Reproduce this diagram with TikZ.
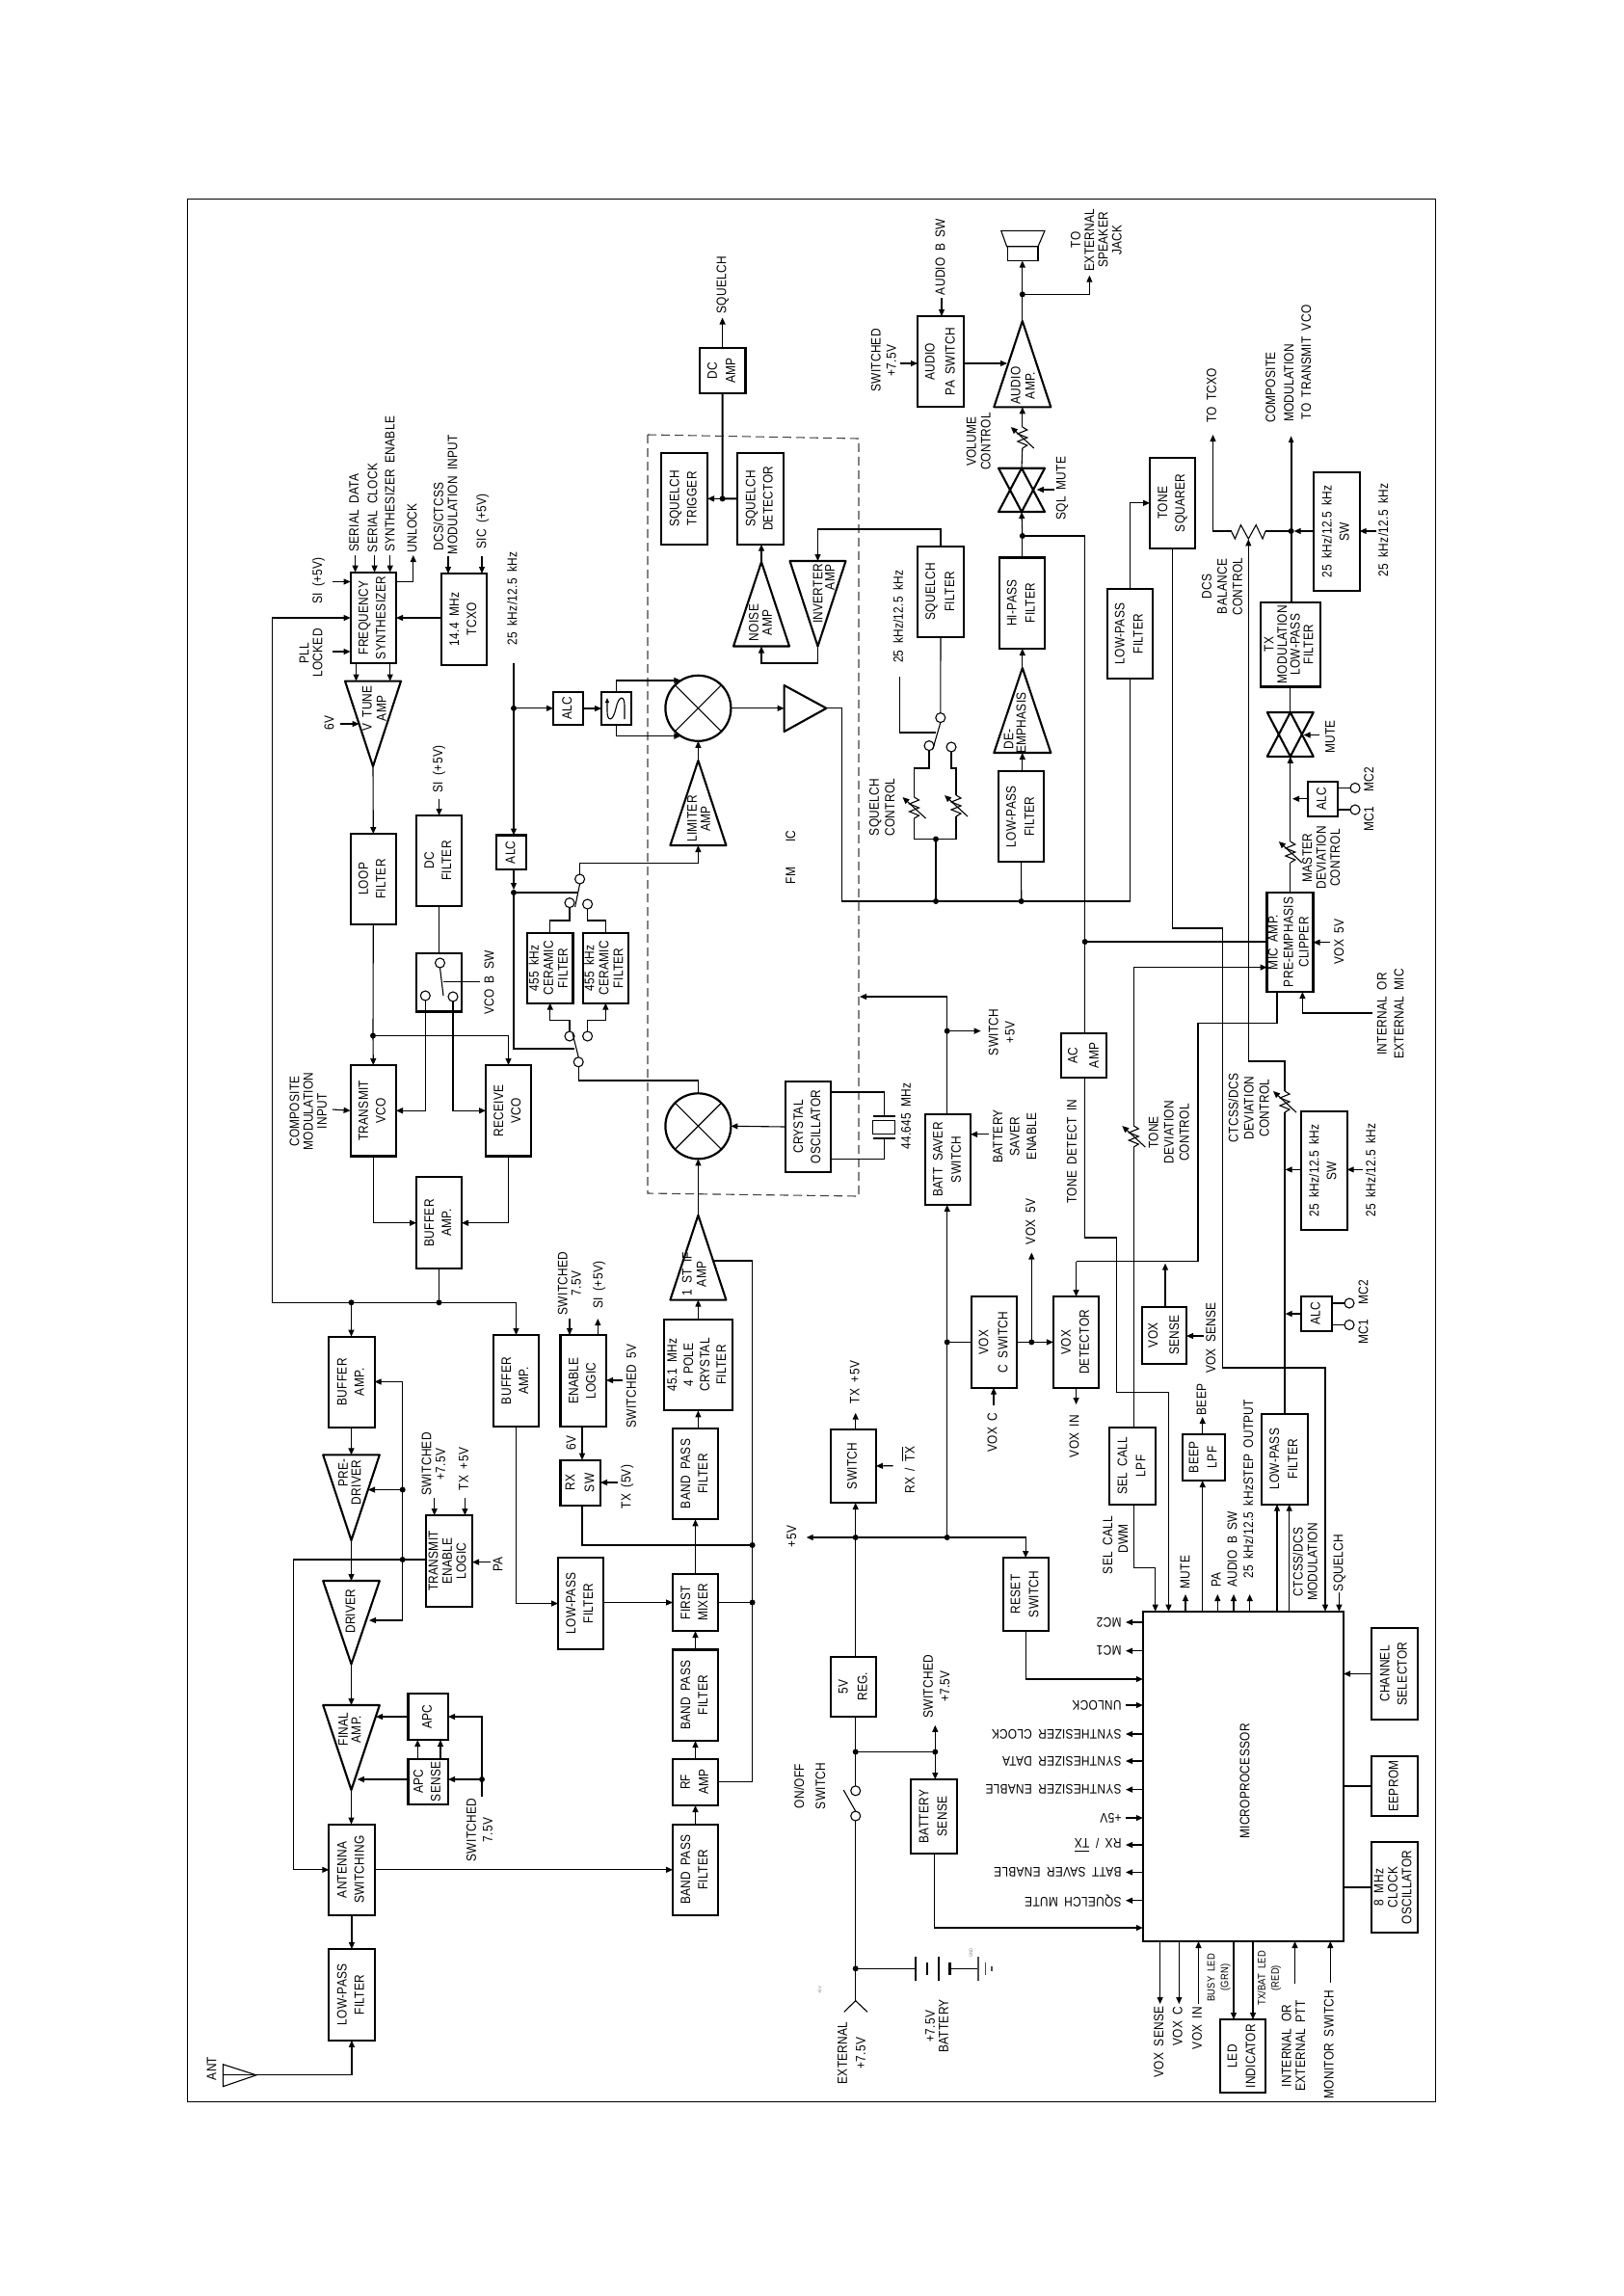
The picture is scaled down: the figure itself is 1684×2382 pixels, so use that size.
\documentclass[tikz,border=0pt]{standalone}
\usepackage{fontspec}
\usepackage{graphicx}
\setmainfont[FakeStretch=0.85,WordSpace=1.8,LetterSpace=2]{Liberation Sans}
\usetikzlibrary{arrows.meta,calc}
\newcounter{lbl}
\def\fsz{14}
\newcommand{\rt}[2][17]{\rotatebox{90}{\fontsize{\fsz}{#1}\selectfont\begin{tabular}{@{}c@{}}#2\end{tabular}}}
\newcommand{\ovl}[1]{\vbox{\hrule height .9pt\kern 2.5pt\hbox{#1}}}
\newcommand{\bx}[7][18]{%
  \pgfmathsetmacro\cxx{(#3+#5)/2}\pgfmathsetmacro\cyy{(#4+#6)/2}%
  \pgfmathsetmacro\wxx{#5-#3}\pgfmathsetmacro\hyy{#6-#4}%
  \node[blk,minimum width=\wxx pt,minimum height=\hyy pt] (#2) at (\cxx,\cyy) {\rt[#1]{#7}};}
\newcommand{\lb}[4][17]{\stepcounter{lbl}\node[lbl] (lab\arabic{lbl}) at (#2,#3) {\rt[#1]{#4}};}
\newcommand{\lbs}[4][14]{\stepcounter{lbl}\node[lbl] (lab\arabic{lbl}) at (#2,#3) {\def\fsz{11}\rt[#1]{#4}};}
\newcommand{\lbr}[2]{\stepcounter{lbl}\node[lbl,anchor=east] (lab\arabic{lbl}) at (1163.5,#1) {\rotatebox{180}{\fontsize{14}{17}\selectfont #2}};}
\newcommand{\tri}[5]{\coordinate (#1A) at (#2,#3);\coordinate (#1B) at (#2,#4);
  \draw[blkline] (#2,#3) -- ({#2-#5},#4) -- ({#2+#5},#4) -- cycle;}
\newcommand{\gate}[5]{\coordinate (#1T) at (#2,#3);\coordinate (#1B) at (#2,#4);
  \draw[blkline] ({#2-#5},#4) -- ({#2+#5},#4) -- (#2,#3) -- cycle;
  \draw[blkline] ({#2-#5},#3) -- ({#2+#5},#3) -- (#2,#4) -- cycle;}
\newcommand{\jn}[3]{\node[dot] (#1) at (#2,#3) {};}
\newcommand{\cir}[3]{\node[ring] (#1) at (#2,#3) {};}
\newcommand{\pot}[3]{\coordinate (#1T) at (#2,{#3-11});\coordinate (#1B) at (#2,{#3+11});
  \draw[wire] (#1T) -- ++(5,3) -- ++(-10,4) -- ++(10,4) -- ++(-10,4) -- ++(10,4) -- ++(-5,3);
  \draw[arr] ({#2+12},{#3+11}) -- ({#2-12},{#3-11});}
\tikzset{
  blk/.style={draw,line width=2.1pt,rectangle,inner sep=0pt,outer sep=0pt,fill=white,line join=miter},
  blkline/.style={line width=2.1pt,line join=round},
  lbl/.style={inner sep=0pt,outer sep=0pt},
  wire/.style={line width=1.1pt},
  thickw/.style={line width=2.2pt},
  arr/.style={line width=1.1pt,-{Triangle[length=7pt,width=6pt]}},
  thickarr/.style={line width=2.2pt,-{Triangle[length=7pt,width=5pt]}},
  dot/.style={circle,fill=black,inner sep=0pt,minimum size=6pt,outer sep=0pt},
  ring/.style={circle,draw,line width=1.1pt,inner sep=0pt,minimum size=10pt,outer sep=0pt},
  mix/.style={circle,draw,line width=2.2pt,inner sep=0pt,minimum size=68pt,outer sep=0pt},
  dashbox/.style={line width=1.1pt,dash pattern=on 9pt off 5pt,draw=black!75}
}
\begin{document}
\begin{tikzpicture}[x=1pt,y=-1pt]
\useasboundingbox (0,0) rectangle (1684,2382);
\fill[white] (0,0) rectangle (1684,2382);
\node[draw,line width=1pt,rectangle,inner sep=0pt,minimum width=1295pt,minimum height=1974pt] (frame) at (842,1193) {};
\draw[dashbox] (672,451) -- (891,455) -- (891,1241) -- (672,1238) -- cycle;
% blocks
\bx[19]{dcamp}{725.7}{360.7}{773.5}{408}{DC\\AMP}
\bx{sqtrig}{686}{470}{734}{564.7}{SQUELCH\\TRIGGER}
\bx{sqdet}{765}{470}{813}{564.7}{SQUELCH\\DETECTOR}
\bx[20]{sqfilt}{952}{567}{1000}{660.7}{SQUELCH\\FILTER}
\bx{fs}{363.6}{593.7}{411}{688.3}{FREQUENCY\\SYNTHESIZER}
\bx{tcxo}{458}{595}{505}{689.7}{14.4 MHz\\TCXO}
\bx{alcone}{574}{718}{605}{752}{ALC}
\node[blk,minimum width=31pt,minimum height=34pt] (sfilt) at (639.5,735) {};
\bx{loop}{363.6}{865}{411}{959}{LOOP\\FILTER}
\bx{dcf}{432}{846}{479}{940}{DC\\FILTER}
\bx{alctwo}{515.4}{866.5}{546}{902}{ALC}
\bx[15]{cerone}{547}{968}{594.5}{1040.6}{455 kHz\\CERAMIC\\FILTER}
\bx[15]{certwo}{604.7}{968}{652}{1040.6}{455 kHz\\CERAMIC\\FILTER}
\node[blk,minimum width=47pt,minimum height=60.5pt] (vcosw) at (455.5,1019.25) {};
\bx{txvco}{363.6}{1105}{411}{1199.5}{TRANSMIT\\VCO}
\bx{rxvco}{504}{1105}{551}{1199.5}{RECEIVE\\VCO}
\bx{bufa}{432}{1221.4}{479}{1316}{BUFFER\\AMP.}
\bx{bufb}{341.3}{1386.6}{388.6}{1481}{BUFFER\\AMP.}
\bx{bufc}{512}{1385}{559}{1480}{BUFFER\\AMP.}
\bx{enl}{581.5}{1385}{629}{1480}{ENABLE\\LOGIC}
\bx[20]{rxsw}{581.5}{1514.7}{623}{1562}{RX\\SW}
\bx[17]{xtal}{689}{1368.7}{759.6}{1463.4}{45.1 MHz\\4 POLE\\CRYSTAL\\FILTER}
\bx{bpb}{698}{1481.7}{745}{1576.3}{BAND PASS\\FILTER}
\bx[14.5]{tel}{442}{1572}{490}{1667}{TRANSMIT\\ENABLE\\LOGIC}
\bx{lprx}{579}{1616}{626}{1711}{LOW-PASS\\FILTER}
\bx{fmix}{698}{1633}{745}{1692}{FIRST\\MIXER}
\bx{bpa}{698}{1711.5}{745}{1806}{BAND PASS\\FILTER}
\bx[19]{rfamp}{698}{1824.6}{745}{1873}{RF\\AMP}
\bx{bpc}{698}{1892.6}{745}{1987}{BAND PASS\\FILTER}
\bx{apc}{423.5}{1757}{465}{1805}{APC}
\bx{apcs}{423.5}{1824.6}{465}{1872}{APC\\SENSE}
\bx{ant}{341.3}{1892.6}{388.6}{1987}{ANTENNA\\SWITCHING}
\bx{lpant}{341.3}{2022}{388.6}{2116.8}{LOW-PASS\\FILTER}
\bx{xosc}{815}{1122}{862}{1216}{CRYSTAL\\OSCILLATOR}
\bx{swt}{861.7}{1482.7}{909}{1559}{SWITCH}
\bx[20]{reg}{862}{1718.6}{909}{1781}{5V\\REG.}
\bx[19]{bsense}{945.4}{1846}{992.8}{1923}{BATTERY\\SENSE}
\bx[19]{reset}{1040.6}{1616}{1087.7}{1692}{RESET\\SWITCH}
\bx[19]{bsave}{960}{1155.8}{1007}{1250}{BATT SAVER\\SWITCH}
\bx[20]{voxc}{1007.8}{1345}{1055}{1439.7}{VOX\\C SWITCH}
\bx[19]{voxd}{1092.8}{1345}{1140.3}{1439.7}{VOX\\DETECTOR}
\bx[22]{acamp}{1100.7}{1072}{1148}{1118}{AC\\AMP}
\bx[22]{voxs}{1184.6}{1355.8}{1231}{1414.7}{VOX\\SENSE}
\bx[19]{selc}{1151}{1481}{1199}{1560.7}{SEL CALL\\LPF}
\bx[19]{beep}{1227}{1487.7}{1271}{1536}{BEEP\\LPF}
\bx[19]{lpm}{1309}{1466.7}{1356.7}{1560.7}{LOW-PASS\\FILTER}
\bx[16]{mic}{1315}{926}{1362}{1029}{MIC AMP.\\PRE-EMPHASIS\\CLIPPER}
\bx{swb}{1350}{1153}{1397.7}{1276}{25 kHz/12.5 kHz\\SW}
\bx{alcfour}{1350}{1345}{1382}{1381}{ALC}
\bx{alcthree}{1356.6}{810.7}{1388}{846.8}{ALC}
\bx[13]{txm}{1308.3}{625}{1369.6}{712.5}{TX\\MODULATION\\LOW-PASS\\FILTER}
\bx{swa}{1363.3}{490}{1410.7}{613}{25 kHz/12.5 kHz\\SW}
\bx{tone}{1193}{475}{1240}{568.7}{TONE\\SQUARER}
\bx[19]{lpmid}{1148.6}{610.7}{1196}{704.4}{LOW-PASS\\FILTER}
\bx[19]{hip}{1036.7}{578.5}{1084}{673}{HI-PASS\\FILTER}
\bx[19]{lpaud}{1036}{800.4}{1083.3}{894}{LOW-PASS\\FILTER}
\bx[21]{pasw}{952}{328}{1000}{422.3}{AUDIO\\PA SWITCH}
\node[blk,minimum width=208.2pt,minimum height=342.3pt] (micro) at (1289.9,1842.85) {};
\lb{1293}{1848}{MICROPROCESSOR}
\bx{chan}{1423}{1689}{1471}{1784}{CHANNEL\\SELECTOR}
\bx{eep}{1423}{1822}{1471}{1884}{EEPROM}
\bx[14.5]{osceight}{1423}{1911}{1471}{2005}{8 MHz\\CLOCK\\OSCILLATOR}
\bx[19]{led}{1265.6}{2095}{1312.7}{2171.4}{LED\\INDICATOR}
% triangles
\tri{noise}{790}{583}{670.5}{29}
\tri{inv}{848.5}{670.5}{582}{29}
\tri{lim}{724.4}{789}{877}{29}
\tri{vtune}{387}{795}{706.6}{29}
\tri{fif}{724.4}{1260.7}{1348.6}{29}
\tri{pred}{364.5}{1598}{1509.4}{29.3}
\tri{drv}{364.5}{1726.5}{1640}{29.3}
\tri{fin}{364.5}{1857}{1769}{29.3}
\tri{aud}{1060.8}{333}{422.3}{29.5}
\tri{deem}{1060.8}{693}{781}{29.5}
\coordinate (trL) at (813.6,734.8); \coordinate (trA) at (857.4,734.8);
\draw[blkline] (813.6,711) -- (trA) -- (813.6,759) -- cycle;
% gates
\gate{ga}{1060}{485.7}{531}{24}
\gate{gb}{1338.8}{739}{784.8}{24}
% mixers
\node[mix] (ma) at (724.4,734.8) {};
\node[mix] (mb) at (724.4,1168.3) {};
\draw[wire] (ma.45) -- (ma.225); \draw[wire] (ma.135) -- (ma.315);
\draw[wire] (mb.45) -- (mb.225); \draw[wire] (mb.135) -- (mb.315);
% texts in triangles
\lb[14]{791}{646}{NOISE\\AMP}
\lb{850}{616}{INVERTER}
\lb{862.5}{599}{AMP}
\lb[14]{727}{849.5}{LIMITER\\AMP}
\lb[15]{390}{735}{V TUNE\\AMP}
\lb[15]{722}{1322}{1 ST IF\\AMP}
\lb{357.4}{1528}{PRE-}
\lb{371}{1538}{DRIVER}
\lb{365}{1671.6}{DRIVER}
\lb[13]{364.8}{1794}{FINAL\\AMP.}
\lb[15]{1063}{400}{AUDIO\\AMP.}
\lb{1048}{767}{DE-}
\lb{1061}{750}{EMPHASIS}
% labels
\lb{750}{296}{SQUELCH}
\lb{330.6}{602.5}{SI (+5V)}
\lb[14]{324.5}{677.5}{PLL\\LOCKED}
\lb{368.6}{532}{SERIAL DATA}
\lb{388}{527}{SERIAL CLOCK}
\lb{406}{502.5}{SYNTHESIZER ENABLE}
\lb{429}{548}{UNLOCK}
\lb{456.5}{536}{DCS/CTCSS}
\lb{471}{513}{MODULATION INPUT}
\lb{501}{541}{SIC (+5V)}
\lb{533}{621}{25 kHz/12.5 kHz}
\lb{343}{750}{6V}
\lb{455.6}{798}{SI (+5V)}
\lb{821.7}{908.5}{FM}
\lb{821.7}{867.5}{IC}
\lb{509}{1019.5}{VCO B SW}
\lb[14.3]{321.7}{1153}{COMPOSITE\\MODULATION\\INPUT}
\lb[14]{592.7}{1331.5}{SWITCHED\\7.5V}
\lb{622}{1333}{SI (+5V)}
\lb{656.5}{1438}{SWITCHED 5V}
\lb{594}{1497}{6V}
\lb{651}{1542.5}{TX (5V)}
\lb[14.5]{451.7}{1519}{SWITCHED\\+7.5V}
\lb{482.4}{1524}{TX +5V}
\lb{518}{1623}{PA}
\lb{499}{1898.5}{SWITCHED\\7.5V}
\lb{221}{2146}{ANT}
\lb{888.3}{1434}{TX +5V}
\lb{822.7}{1594}{+5V}
\lb{945}{1525}{RX / \ovl{TX}}
\lb{941.4}{1158}{44.645 MHz}
\lb{1040.8}{1071}{SWITCH\\+5V}
\lb[17.5]{1054}{1179}{BATTERY\\SAVER\\ENABLE}
\lb{1113.4}{1194.5}{TONE DETECT IN}
\lb{1070.7}{1267.5}{VOX 5V}
\lb{1031}{1486}{VOX C}
\lb{1116}{1490}{VOX IN}
\lb{1257.7}{1388}{VOX SENSE}
\lb{1248}{1452}{BEEP}
\lb[16]{1297.5}{1149.5}{CTCSS/DCS\\DEVIATION\\CONTROL}
\lb[16]{1214.5}{1175}{TONE\\DEVIATION\\CONTROL}
\lb[17.7]{1444}{1052}{INTERNAL OR\\EXTERNAL MIC}
\lb{1390.6}{977}{VOX 5V}
\lb[14.5]{1372.7}{890}{MASTER\\DEVIATION\\CONTROL}
\lb{1421.8}{809}{MC2}
\lb{1421.8}{850}{MC1}
\lb{1416}{1340.5}{MC2}
\lb{1416}{1381.5}{MC1}
\lb{1423.8}{1214}{25 kHz/12.5 kHz}
\lb{1381.5}{764.5}{MUTE}
\lb{1436.8}{550}{25 kHz/12.5 kHz}
\lb[16]{1269.6}{608.5}{DCS\\BALANCE\\CONTROL}
\lb{1319.8}{402}{COMPOSITE}
\lb{1338.8}{397.5}{MODULATION}
\lb{1356.6}{376}{TO TRANSMIT VCO}
\lb{1258.5}{410.5}{TO TCXO}
\lb{1102.3}{506.7}{SQL MUTE}
\lb[15]{1017}{458}{VOLUME\\CONTROL}
\lb[16]{918.5}{374}{SWITCHED\\+7.5V}
\lb{977}{266.5}{AUDIO B SW}
\lb[14.3]{1139.4}{249}{TO\\EXTERNAL\\SPEAKER\\JACK}
\lb{933.5}{639.7}{25 kHz/12.5 kHz}
\lb[16.2]{916.7}{837.5}{SQUELCH\\CONTROL}
\lb{1231}{1631}{MUTE}
\lb{1263.3}{1639}{PA}
\lb{1280}{1607.4}{AUDIO B SW}
\lb{1296.7}{1544.7}{25 kHz/12.5 kHzSTEP OUTPUT}
\lb{1348.3}{1620.5}{CTCSS/DCS}
\lb{1363.3}{1620.4}{MODULATION}
\lb{1390}{1621.5}{SQUELCH}
\lb{1150.7}{1603}{SEL CALL}
\lb{1166.7}{1596.5}{DWM}
\lb[17.4]{973}{1749.6}{SWITCHED\\+7.5V}
\lb[22]{840.6}{1853}{ON/OFF\\SWITCH}
\lb[19]{884.5}{2130}{EXTERNAL\\+7.5V}
\lb[14]{974}{2102}{+7.5V\\BATTERY}
\lb{1203.6}{2118.5}{VOX SENSE}
\lb{1223.3}{2102}{VOX C}
\lb{1243.5}{2104}{VOX IN}
\lbs{1264.6}{2051.7}{BUSY LED\\(GRN)}
\lbs{1317}{2052.3}{TX/BAT LED\\(RED)}
\lb[14.6]{1344}{2122.5}{INTERNAL OR\\EXTERNAL PTT}
\lb{1380.3}{2121}{MONITOR SWITCH}
\lbr{1683}{MC2}
\lbr{1712.7}{MC1}
\lbr{1769}{UNLOCK}
\lbr{1799}{SYNTHESIZER CLOCK}
\lbr{1827}{SYNTHESIZER DATA}
\lbr{1856.6}{SYNTHESIZER ENABLE}
\lbr{1886}{+5V}
\lbr{1914}{RX / \ovl{TX}}
\lbr{1942.4}{BATT SAVER ENABLE}
\lbr{1971.7}{SQUELCH MUTE}
\node[lbl,text=black!50,rotate=90,font=\fontsize{5}{6}\selectfont] (tinya) at (850.7,2065) {+5V};
\node[lbl,text=black!50,rotate=90,font=\fontsize{5}{6}\selectfont] (tinyb) at (1007.3,2026) {GND};
% squelch area
\jn{jsq}{749.6}{517.4}
\draw[thickw] (dcamp.south) -- (jsq.center);
\draw[arr] (dcamp.north) -- (dcamp.north|-0,329.5);
\draw[thickw] (jsq.center) -- (sqdet.west);
\draw[arr] (jsq.center) -- (sqtrig.east);
\draw[arr] (noiseA) -- (sqdet.south-|noiseA);
\draw[arr] (invA) -- (invA|-0,688) -| (noiseB);
\draw[arr] (sqfilt.north) |- (invB|-0,549) -- (invB);
% mixer one
\draw[arr] (ma.east) -- (trL);
\coordinate (busA) at (873.4,935);
\draw[wire] (trA) -| (busA) -| (lpmid.south);
\jn{jone}{971}{935}
\jn{jtwo}{1059.7}{935}
\draw[wire] (lpaud.south) -- (jtwo.center);
\coordinate (ttf) at (533,688);
\jn{jthree}{533}{734.8}
\draw[arr] (ttf) -- (alctwo.north-|ttf);
\draw[arr] (jthree.center) -- (alcone.west|-jthree);
\draw[arr] (alcone.east) -- (sfilt.west);
\draw[arr] (sfilt.north) |- (ma.122);
\draw[arr] (sfilt.south) |- (ma.238);
\draw[wire,{Triangle[length=5pt,width=4pt]}-] (630,724) -- (630,738) .. controls (630,749) and (636,749) .. (639,735) .. controls (642,721) and (648,721) .. (648,732) -- (648,746);
\draw[arr] (limA) -- (ma.south);
% switches at ceramic filters
\cir{saa}{601.6}{912}\cir{sab}{591}{936.6}\cir{sac}{609.6}{938}
\cir{sba}{591}{1075}\cir{sbb}{609.6}{1075}\cir{sbc}{600.2}{1101.8}
\coordinate (armA) at (596.6,941); \coordinate (armB) at (594,1072);
\draw[wire] (saa.south) -- (armA);
\draw[wire] (sbc.north) -- (armB);
\draw[arr] (saa.north) |- (limB|-0,895.5) -- (limB);
\jn{jfour}{533}{926}
\draw[arr] (alctwo.south-|jfour) -- (jfour.north);
\draw[wire] (jfour.center) -- (599.4,926);
\draw[wire] (jfour.center) |- (596,1088);
\draw[wire] (sab.south) |- (cerone.north|-0,955) -- (cerone.north);
\draw[wire] (sac.south) |- (certwo.north|-0,955) -- (certwo.north);
\draw[arr] (sba.north) |- (cerone.south|-0,1058.5) -- (cerone.south);
\draw[arr] (sbb.north) |- (certwo.south|-0,1058.5) -- (certwo.south);
\draw[wire] (sbc.south) |- (mb.north|-0,1121) -- (mb.north);
% crystal oscillator
\draw[arr] (xosc.west) -- (mb.east);
\coordinate (xtT) at (917.3,1158); \coordinate (xtB) at (917.3,1181);
\draw[wire] (xosc.east|-0,1133) -| (xtT);
\draw[wire] (xosc.east|-0,1202.7) -| (xtB);
\draw[line width=1.2pt] (906,1158) -- (929,1158);
\draw[line width=1.2pt] (906,1181) -- (929,1181);
\node[draw,line width=1.2pt,minimum width=23pt,minimum height=14.3pt,inner sep=0pt] (xt) at (917.3,1169.6) {};
% synthesizer
\draw[arr] (tcxo.west|-fs.east) -- (fs.east);
\draw[arr] (345,603.5) -- (fs.west|-0,603.5);
\draw[arr] (345,676) -- (fs.west|-0,676);
\draw[arr] (368.6,576) -- (fs.north-|368.6,0);
\draw[arr] (388.6,576) -- (fs.north-|388.6,0);
\draw[arr] (404.7,576) -- (fs.north-|404.7,0);
\draw[arr] (fs.east|-0,603.5) -| (428.8,576);
\draw[arr] (465,577) -- (tcxo.north-|465,0);
\draw[arr] (500,577) -- (tcxo.north-|500,0);
\draw[arr] (fs.south-|369.5,0) -- (vtuneB-|369.5,0);
\draw[arr] (fs.south-|404.7,0) -- (vtuneB-|404.7,0);
\draw[arr] (353,751) -- (372.6,751);
\draw[arr] (vtuneA) -- (loop.north);
\draw[arr] (455.6,828.5) -- (dcf.north-|455.6,0);
\draw[wire] (dcf.south) -- (vcosw.north);
\cir{vsa}{456.5}{999}\cir{vsb}{441.3}{1033}\cir{vsc}{470}{1034}
\coordinate (varm) at (460,1033);
\draw[wire] (vsa.south) -- (varm);
\draw[wire] (460,1018.3) -- (498,1018.3);
\jn{jloop}{387}{1074.5}
\draw[wire] (loop.south) -- (jloop.center);
\draw[arr] (jloop.center) -- (txvco.north);
\draw[arr] (jloop.center) -| (rxvco.north);
\draw[arr] (vsb.south) |- (txvco.east);
\draw[arr] (vsc.south) |- (rxvco.west);
\draw[arr] (345,1151) -- (txvco.west);
\draw[arr] (txvco.south) |- (bufa.west);
\draw[arr] (rxvco.south) |- (bufa.east);
% long left lines
\jn{jbufa}{455.5}{1351.3}
\jn{jbufb}{364.5}{1351.3}
\coordinate (lft) at (282.4,641);
\draw[wire] (bufa.south) -- (jbufa.center);
\draw[arr] (jbufa.center) -| (lft) -- (fs.west);
\draw[arr] (jbufa.center) -| (bufc.north);
\draw[arr] (jbufb.center) -- (bufb.north-|jbufb);
\draw[arr] (bufb.south-|predB) -- (predB);
\draw[arr] (predA) -- (drvB);
\draw[arr] (drvA) -- (finB);
\draw[arr] (finA) -- (ant.north-|finA);
\draw[arr] (ant.south) -- (lpant.north);
\draw[arr] (ant.east) -- (bpc.west);
\coordinate (antA) at (266,2152.8);
\draw[wire] (231.5,2141.7) -- (antA) -- (231.5,2164.6) -- cycle;
\draw[wire] (231.5,2152.8) -- (antA);
\draw[arr] (antA) -| (lpant.south);
% drivers supply
\jn{jda}{417.7}{1545.5}
\jn{jdb}{417.7}{1618}
\draw[arr] (jda.center) -- (382,1545.5);
\draw[arr] (jda.center) |- (bufb.east|-0,1433.5);
\draw[wire] (jda.center) -- (jdb.center);
\draw[arr] (jdb.center) |- (383,1681);
\coordinate (lfb) at (304.3,1939.8);
\draw[arr] (tel.west|-jdb) -| (lfb) -- (ant.west);
\draw[arr] (450.7,1554) -- (tel.north-|450.7,0);
\draw[arr] (482.4,1554) -- (tel.north-|482.4,0);
\draw[arr] (509,1620.6) -- (tel.east|-0,1620.6);
% APC
\draw[arr] (apc.west) -- (390,1781);
\draw[arr] (apcs.west|-0,1846) -- (370.8,1846);
\draw[arr] (apcs.north-|433.3,0) -- (apc.south-|433.3,0);
\draw[arr] (apcs.north-|457,0) -- (apc.south-|457,0);
\jn{jsev}{500}{1846}
\draw[arr] (jsev.center) |- (apc.east);
\draw[arr] (jsev.center) -- (apcs.east|-jsev);
\draw[wire] (jsev.center) -- (500,1864);
% RX chain
\draw[arr] (bpc.north) -- (rfamp.south);
\draw[arr] (rfamp.north) -- (bpa.south);
\draw[arr] (bpa.north) -- (fmix.south);
\draw[arr] (fmix.north) -- (bpb.south);
\draw[arr] (bpb.north-|fifA) -- (xtal.south-|fifA);
\draw[arr] (xtal.north-|fifA) -- (fifB);
\draw[arr] (fifA) -- (mb.south);
\jn{jra}{780.6}{1603}
\jn{jrb}{780.6}{1662.5}
\draw[wire] (rfamp.east) -| (780.6,1308) -- (741.3,1308);
\draw[wire] (fmix.east) -- (jrb.center);
\draw[wire] (rxsw.south-|604,0) |- (jra.center);
\draw[arr] (enl.south-|604,0) -- (rxsw.north-|604,0);
\draw[arr] (591,1368) -- (enl.north-|591,0);
\draw[arr] (enl.north-|620.3,0) -- (620.3,1368);
\draw[arr] (646,1432) -- (enl.east|-0,1432);
\draw[arr] (641,1538) -- (rxsw.east|-0,1538);
\draw[arr] (lprx.east|-fmix.west) -- (fmix.west);
\draw[arr] (bufc.south) |- (lprx.west);
% power
\jn{jp}{887.7}{1595}
\jn{jq}{982.7}{1595}
\jn{jr}{982.7}{1392.4}
\jn{js}{982.7}{1069.6}
\jn{jt}{1070.3}{1392.4}
\draw[arr] (jp.center) -- (836.7,1595);
\draw[wire] (jp.center) -- (jq.center);
\draw[arr] (jq.center) -| (reset.north);
\draw[arr] (jp.center) -- (swt.south-|jp);
\draw[wire] (reg.north-|jp) -- (jp.center);
\draw[arr] (swt.north-|jp) -- (887.7,1465.7);
\draw[arr] (926.7,1520.7) -- (swt.east);
\draw[arr] (jq.center) -- (bsave.south-|jq);
\draw[arr] (bsave.north-|jq) |- (892,1034);
\draw[arr] (js.center) -- (1017.7,1069.6);
\draw[wire] (jr.center) -- (voxc.west|-jr);
\draw[wire] (voxc.east|-jr) -- (jt.center);
\draw[arr] (jt.center) -- (voxd.west|-jt);
\draw[arr] (jt.center) -- (1070.3,1299.5);
\draw[arr] (1031,1458) -- (voxc.south-|1031,0);
\draw[arr] (voxd.south) -- (voxd.south|-0,1457);
\draw[arr] (1026.4,1176.8) -- (bsave.east|-0,1176.8);
\draw[arr] (voxs.north-|1209,0) -- (1209,1310.7);
\draw[arr] (1249,1386) -- (voxs.east|-0,1386);
\jn{ju}{887.7}{1817.5}
\jn{jv}{970.3}{1817.5}
\cir{ona}{887.7}{1857.8}\cir{onb}{887.7}{1884}
\jn{jw}{887.7}{2042.3}
\draw[wire] (reg.south-|ju) -- (ju.center) -- (jv.center);
\draw[arr] (jv.center) -- (970.3,1789.8);
\draw[arr] (jv.center) -- (bsense.north-|jv);
\draw[wire] (ju.center) -- (ona.north);
\coordinate (onarm) at (875.2,1857);
\draw[wire] (onarm) -- (onb.north);
\draw[wire] (onb.south) -- (jw.center);
\coordinate (yapex) at (887.7,2075.7);
\draw[wire] (jw.center) -- (yapex);
\draw[wire] (875.7,2087.3) -- (yapex) -- (900,2087.3);
\draw[wire] (jw.center) -- (950,2042.3);
\draw[line width=2pt] (950,2030) -- (950,2055);
\draw[line width=2.5pt] (962,2036) -- (962,2049);
\draw[line width=2pt] (974,2030) -- (974,2055);
\draw[line width=3pt] (985.3,2036) -- (985.3,2049);
\draw[wire] (985.3,2042.3) -- (1015,2042.3);
\draw[wire,draw=black!70] (1015,2030) -- (1015,2055);
\draw[wire,draw=black!70] (1022.3,2036) -- (1022.3,2049);
\draw[wire,draw=black!70] (1029,2040) -- (1029,2045);
\draw[arr] (bsense.south) |- (micro.west|-0,2000);
\draw[arr] (reset.south) |- (micro.west|-0,1742);
% audio
\draw[arr] (audA) -- (1060.8,270.5);
\jn{jaud}{1060.8}{305.4}
\draw[arr] (jaud.center) -| (1130.4,285.7);
\draw[wire] (1038.7,239.3) -- (1084,239.3) -- (1077,255.8) -- (1044.6,255.8) -- cycle;
\draw[wire] (1045.4,255.8) rectangle (1077,270.5);
\draw[arr] (pasw.east|-0,377) -- (1045,377);
\draw[arr] (934,377) -- (pasw.west|-0,377);
\draw[arr] (977,309) -- (pasw.north-|977,0);
\pot{vol}{1060.8}{454}
\draw[wire] (gaT) -- (volB);
\draw[arr] (volT) -- (audB);
\jn{jhp}{1060.8}{556}
\draw[wire] (hip.north-|jhp) -- (jhp.center);
\draw[arr] (jhp.center) -- (gaB);
\draw[arr] (1093.6,508) -- (1075.8,508);
\draw[arr] (deemA) -- (hip.south-|deemA);
\draw[arr] (lpaud.north-|deemB) -- (deemB);
\draw[wire] (jhp.center) -| (acamp.north-|1125.7,0);
\jn{jac}{1125.7}{977}
\draw[wire] (jac.center) -- (mic.west|-jac);
\draw[arr] (acamp.south-|1125.7,0) -- (1125.7,1284) -| (1158.5,1444.4) -| (micro.north-|1212.5,0);
% squelch switch
\cir{sct}{975.8}{744.6}\cir{scl}{964}{773.6}\cir{scr}{987}{775}
\coordinate (arms) at (968,776.7);
\draw[wire] (sct.south) -- (arms);
\draw[wire] (sqfilt.south) -- (sct.north);
\draw[wire] (933.5,702) |- (971,760);
\pot{sqa}{948.5}{838}
\pot{sqb}{992}{836}
\jn{jsqc}{971}{870.5}
\draw[wire] (scl.south) |- (sqaT|-0,797) -- (sqaT);
\draw[wire] (scr.south) |- (sqbT|-0,797) -- (sqbT);
\draw[wire] (sqaB) |- (jsqc.center);
\draw[wire] (sqbB) |- (jsqc.center);
\draw[wire] (jsqc.center) -- (jone.center);
% tone
\draw[arr] (lpmid.north) |- (tone.west);
\draw[arr] (tone.south) -- (tone.south|-0,963) -| (1268.8,1419) -| (micro.north-|1375,0);
\coordinate (dcsL) at (1277.5,551); \coordinate (dcsR) at (1313,551);
\draw[arr] (dcsL) -| (1258.5,451);
\draw[wire] (dcsL) -- (1281.4,559) -- (1287.4,544.6) -- (1295.3,559) -- (1303.2,544.6) -- (1310,559) -- (dcsR);
\jn{jcomp}{1339.6}{551}
\draw[wire] (dcsR) -- (jcomp.center);
\draw[thickw] (txm.north-|jcomp) -- (jcomp.center);
\draw[thickarr] (jcomp.center) -- (1339.6,452);
\draw[arr] (swa.west|-jcomp) -- (jcomp.east);
\draw[arr] (1428,551) -- (swa.east|-0,551);
\draw[wire] (txm.south-|gbT) -- (gbT);
\pot{master}{1338.8}{884}
\draw[arr] (masterT) -- (gbB);
\draw[wire] (mic.north-|masterB) -- (masterB);
\draw[arr] (1369,762.5) -- (1352.6,762.5);
\draw[arr] (alcthree.west) -- (1341,828.75);
\cir{caa}{1406}{817.4}\cir{cab}{1406}{840}
\draw[wire] (alcthree.east|-caa) -- (caa.west);
\draw[wire] (alcthree.east|-cab) -- (cab.west);
\draw[arr] (1380,977.7) -- (mic.east|-0,977.7);
\draw[arr] (1423.8,1051) -| (mic.south-|1351.4,0);
\pot{tonep}{1176.3}{1179}
\draw[wire] (selc.north-|tonepB) -- (tonepB);
\draw[arr] (tonepT) |- (mic.west|-0,1003.6);
\draw[arr] (selc.south-|1176.3,0) |- (1198.7,1626.7) -- (micro.north-|1198.7,0);
\pot{ctcss}{1333}{1143}
\draw[wire] (lpm.north-|ctcssB) -- (ctcssB);
\draw[arr] (ctcssT) |- (1295.3,1101) -- (1295.3,559.4);
\draw[arr] (swb.west|-0,1213.4) -- (1333.6,1213.4);
\draw[arr] (1414,1213.4) -- (swb.east|-0,1213.4);
\draw[arr] (alcfour.west) -- (1333.6,1363);
\cir{cba}{1400}{1352}\cir{cbb}{1400}{1374.5}
\draw[wire] (alcfour.east|-cba) -- (cba.west);
\draw[wire] (alcfour.east|-cbb) -- (cbb.west);
\draw[arr] (voxd.north|-0,1308.5) -- (voxd.north);
\draw[wire] (voxd.north|-0,1308.5) -| (1243,1061.6) -| (mic.south-|1325,0);
% micro top
\draw[arr] (micro.north-|1230,0) -- (1230,1654);
\draw[arr] (micro.north-|1247.7,0) -- (beep.south-|1247.7,0);
\draw[arr] (beep.north-|1247.7,0) -- (1247.7,1470);
\draw[arr] (micro.north-|1263.3,0) -- (1263.3,1654);
\draw[arr] (micro.north-|1280,0) -- (1280,1654);
\draw[arr] (micro.north-|1296.7,0) -- (1296.7,1654);
\draw[arr] (micro.north-|1325,0) -- (lpm.south-|1325,0);
\draw[arr] (micro.north-|1337.7,0) -- (lpm.south-|1337.7,0);
\draw[arr] (1389.4,1652) -- (micro.north-|1389.4,0);
% micro left
\draw[arr] (micro.west|-0,1683) -- (1168,1683);
\draw[arr] (micro.west|-0,1712.7) -- (1168,1712.7);
\draw[arr] (1168,1769) -- (micro.west|-0,1769);
\draw[arr] (micro.west|-0,1799) -- (1168,1799);
\draw[arr] (micro.west|-0,1827) -- (1168,1827);
\draw[arr] (micro.west|-0,1856.6) -- (1168,1856.6);
\draw[arr] (1168,1886) -- (micro.west|-0,1886);
\draw[arr] (micro.west|-0,1914) -- (1168,1914);
\draw[arr] (micro.west|-0,1942.4) -- (1168,1942.4);
\draw[arr] (micro.west|-0,1971.7) -- (1168,1971.7);
% micro right
\draw[arr] (chan.west) -- (micro.east|-chan.west);
\draw[wire] (eep.west) -- (micro.east|-eep.west);
\draw[thickw] (osceight.west) -- (micro.east|-osceight.west);
% micro bottom
\draw[arr] (micro.south-|1203.6,0) -- (1203.6,2079);
\draw[arr] (micro.south-|1223.3,0) -- (1223.3,2079);
\draw[arr] (1243.5,2078.5) -- (micro.south-|1243.5,0);
\draw[arr] (micro.south-|1280,0) -- (led.north-|1280,0);
\draw[arr] (micro.south-|1300,0) -- (led.north-|1300,0);
\draw[arr] (1343.5,2058) -- (micro.south-|1343.5,0);
\draw[arr] (1380.3,2056.7) -- (micro.south-|1380.3,0);
\end{tikzpicture}
\end{document}
